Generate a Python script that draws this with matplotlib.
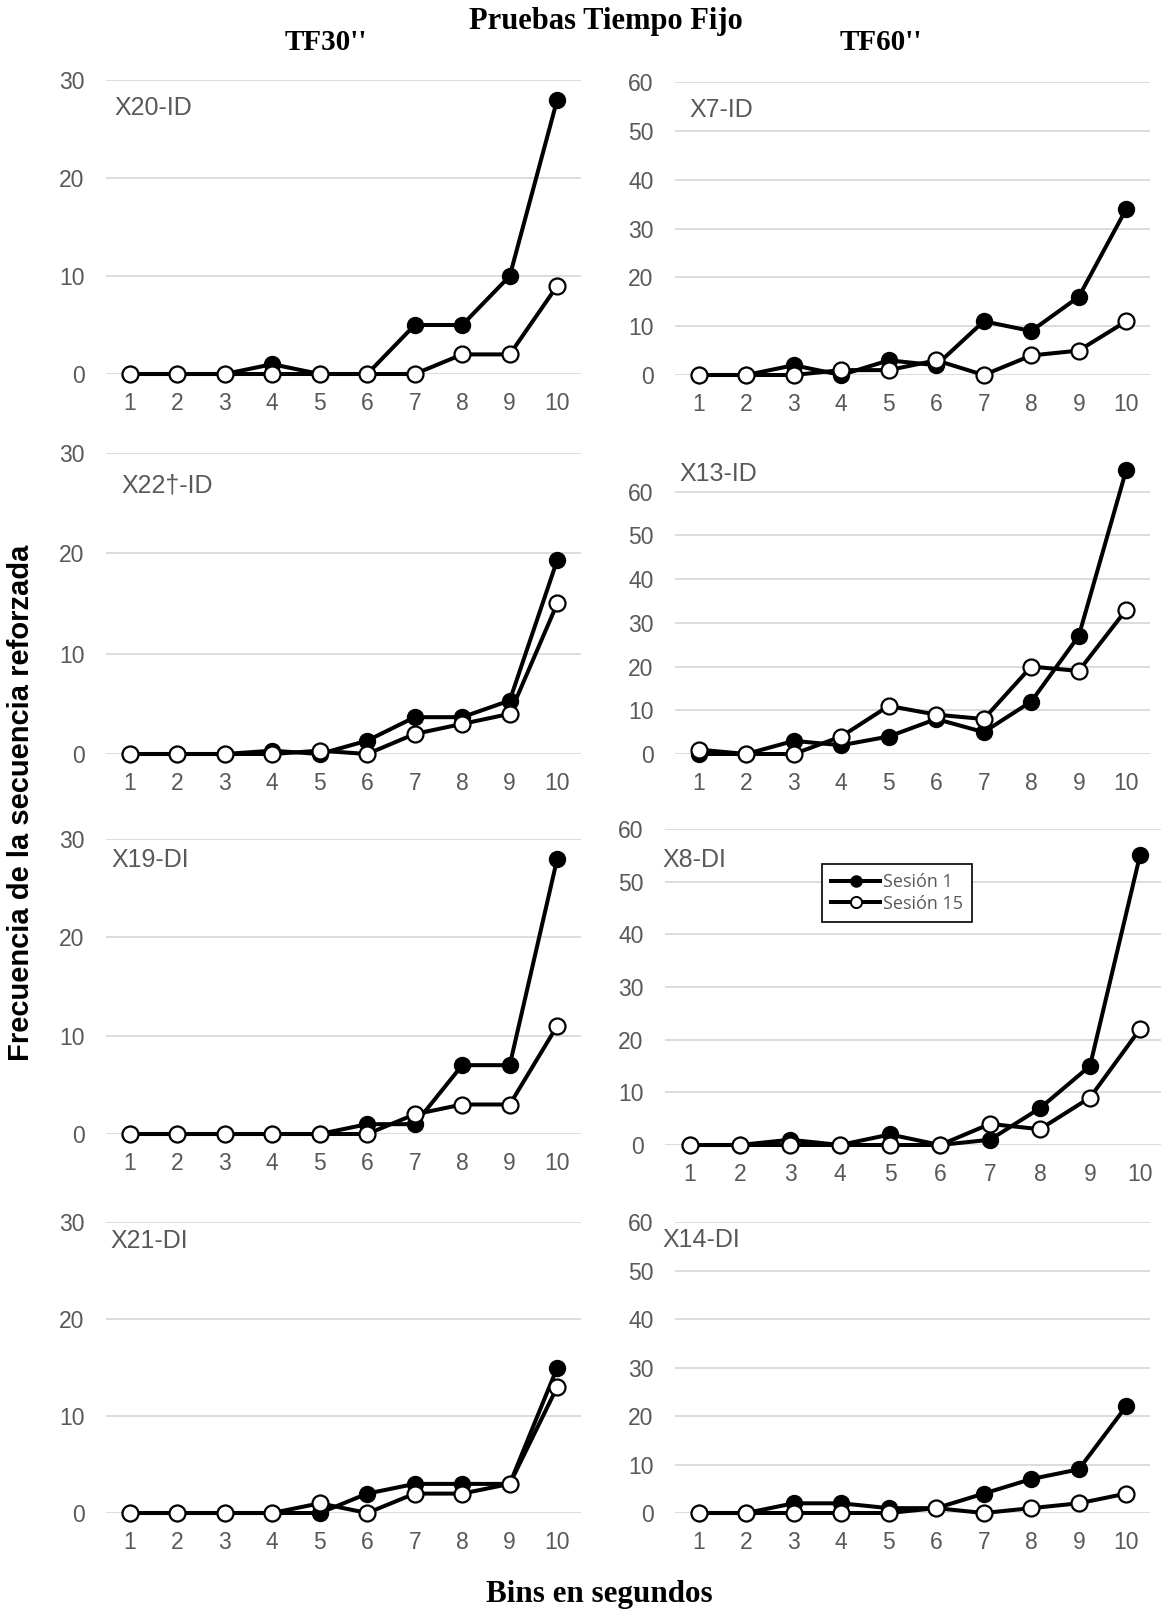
import matplotlib
matplotlib.use('Agg')
import matplotlib.pyplot as plt
from matplotlib.lines import Line2D

# Frecuencia por bin (1-10 s) para cada sujeto, sesión 1 y sesión 15
bins = [1, 2, 3, 4, 5, 6, 7, 8, 9, 10]

x20_s1 = [0, 0, 0, 1, 0, 0, 5, 5, 10, 28]
x20_s15 = [0, 0, 0, 0, 0, 0, 0, 2, 2, 9]

x7_s1 = [0, 0, 2, 0, 3, 2, 11, 9, 16, 34]
x7_s15 = [0, 0, 0, 1, 1, 3, 0, 4, 5, 11]

x22_s1 = [0, 0, 0, 0.33, 0, 1.33, 3.67, 3.67, 5.33, 19.33]
x22_s15 = [0, 0, 0, 0, 0.33, 0, 2, 3, 4, 15]

x13_s1 = [0, 0, 3, 2, 4, 8, 5, 12, 27, 65]
x13_s15 = [1, 0, 0, 4, 11, 9, 8, 20, 19, 33]

x19_s1 = [0, 0, 0, 0, 0, 1, 1, 7, 7, 28]
x19_s15 = [0, 0, 0, 0, 0, 0, 2, 3, 3, 11]

x8_s1 = [0, 0, 1, 0, 2, 0, 1, 7, 15, 55]
x8_s15 = [0, 0, 0, 0, 0, 0, 4, 3, 9, 22]

x21_s1 = [0, 0, 0, 0, 0, 2, 3, 3, 3, 15]
x21_s15 = [0, 0, 0, 0, 1, 0, 2, 2, 3, 13]

x14_s1 = [0, 0, 2, 2, 1, 1, 4, 7, 9, 22]
x14_s15 = [0, 0, 0, 0, 0, 1, 0, 1, 2, 4]

W, H = 1161, 1610
fig = plt.figure(figsize=(W / 100, H / 100), dpi=100)

grey = '#595959'
grid_col = '#d9d9d9'


def px_rect(x0, x1, y_top, y_bot):
    # pixel box -> figure fraction [left, bottom, width, height]
    return [x0 / W, 1 - y_bot / H, (x1 - x0) / W, (y_bot - y_top) / H]


t30 = [0, 10, 20, 30]
t60 = [0, 10, 20, 30, 40, 50, 60]

# (nombre, sesión 1, sesión 15, ymax, ticks, caja del eje, posición de la etiqueta)
panels = [
    ('X20-ID', x20_s1, x20_s15, 30, t30, px_rect(106, 581, 80, 374), (114, 108)),
    ('X7-ID', x7_s1, x7_s15, 60, t60, px_rect(675, 1150, 82, 375), (689, 110)),
    ('X22\u2020-ID', x22_s1, x22_s15, 30, t30, px_rect(106, 581, 453, 754), (121, 485)),
    ('X13-ID', x13_s1, x13_s15, 70, t60, px_rect(675, 1150, 448, 754), (679, 474)),
    ('X19-DI', x19_s1, x19_s15, 30, t30, px_rect(106, 581, 839, 1134), (111, 860)),
    ('X8-DI', x8_s1, x8_s15, 60, t60, px_rect(665, 1165, 829, 1145), (662, 860)),
    ('X21-DI', x21_s1, x21_s15, 30, t30, px_rect(106, 581, 1222, 1513), (110, 1241)),
    ('X14-DI', x14_s1, x14_s15, 60, t60, px_rect(675, 1150, 1222, 1513), (662, 1240)),
]

lw = 2.9
ms = 11.5

for name, s1, s15, ymax, ticks, rect, (lx, ly) in panels:
    ax = fig.add_axes(rect)
    ax.set_xlim(0.5, 10.5)
    ax.set_ylim(0, ymax)
    ax.set_yticks(ticks)
    ax.set_xticks(bins)
    ax.grid(axis='y', color=grid_col, linewidth=1.3)
    ax.set_axisbelow(True)
    for sp in ax.spines.values():
        sp.set_visible(False)
    ax.tick_params(length=0, labelsize=16.5, labelcolor=grey)
    ax.tick_params(axis='x', pad=13)
    ax.tick_params(axis='y', pad=15.5)
    for lab in ax.get_xticklabels() + ax.get_yticklabels():
        lab.set_fontfamily('Liberation Sans')

    ax.plot(bins, s1, color='black', linewidth=lw, marker='o', markersize=ms,
            markerfacecolor='black', markeredgecolor='black', clip_on=False, zorder=3)
    ax.plot(bins, s15, color='black', linewidth=lw, marker='o', markersize=ms,
            markerfacecolor='white', markeredgecolor='black', markeredgewidth=1.6,
            clip_on=False, zorder=4)

    fig.text(lx / W, 1 - ly / H, name, fontsize=18, color=grey,
             family='Liberation Sans', va='center', ha='left', zorder=5)

# leyenda dentro del panel X8-DI
handles = [
    Line2D([], [], color='black', linewidth=lw, marker='o', markersize=8,
           markerfacecolor='black', markeredgecolor='black'),
    Line2D([], [], color='black', linewidth=lw, marker='o', markersize=8,
           markerfacecolor='white', markeredgecolor='black', markeredgewidth=1.4),
]
leg = fig.legend(handles, ['Sesi\u00f3n 1', 'Sesi\u00f3n 15'],
                 loc='center', bbox_to_anchor=(897 / W, 1 - 893 / H),
                 prop={'family': 'Open Sans', 'size': 13},
                 fancybox=False, edgecolor='black', framealpha=1,
                 handlelength=2.7, handletextpad=0.15, borderpad=0.5,
                 labelspacing=0.2, borderaxespad=0)
leg.get_frame().set_linewidth(1.2)
for t in leg.get_texts():
    t.set_color(grey)

# títulos y etiquetas comunes
fig.text(606 / W, 1 - 22 / H, 'Pruebas Tiempo Fijo', ha='center', va='center',
         fontsize=22, fontweight='bold', family='Liberation Serif')
fig.text(326 / W, 1 - 42 / H, "TF30''", ha='center', va='center',
         fontsize=21, fontweight='bold', family='Liberation Serif')
fig.text(881 / W, 1 - 42 / H, "TF60''", ha='center', va='center',
         fontsize=21, fontweight='bold', family='Liberation Serif')
fig.text(21 / W, 1 - 803 / H, 'Frecuencia de la secuencia reforzada', rotation=90,
         ha='center', va='center', fontsize=21, fontweight='bold', family='Liberation Sans')
fig.text(599 / W, 1 - 1594 / H, 'Bins en segundos', ha='center', va='center',
         fontsize=22.4, fontweight='bold', family='Liberation Serif')

fig.savefig('out.png', dpi=100, facecolor='white')
